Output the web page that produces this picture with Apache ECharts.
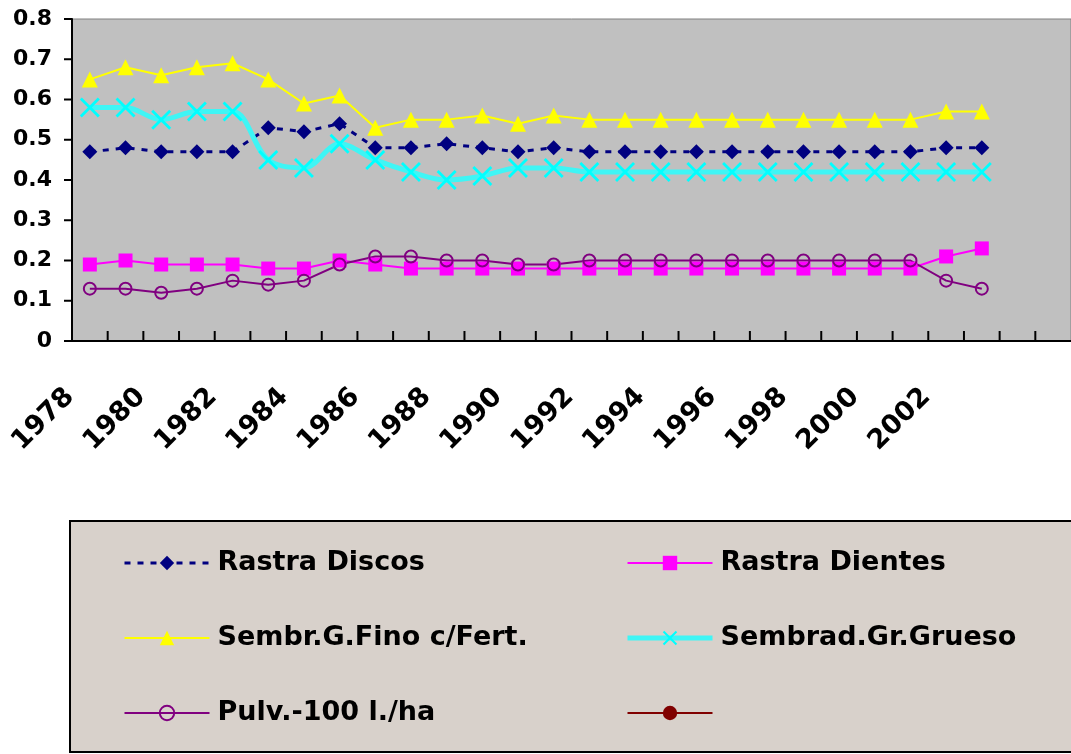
<!DOCTYPE html>
<html>
<head>
<meta charset="utf-8">
<script src="https://cdn.jsdelivr.net/npm/echarts@6/dist/echarts.min.js"></script>
<style>
    html, body { margin: 0; padding: 0; background: #fff; }
    #chart { width: 1071px; height: 754px; }
</style>
</head>
<body>
<div id="chart"></div>
<script>
// años (las dos ultimas categorias quedan vacias)
const years = ['1978', '1979', '1980', '1981', '1982', '1983', '1984', '1985', '1986', '1987',
    '1988', '1989', '1990', '1991', '1992', '1993', '1994', '1995', '1996', '1997',
    '1998', '1999', '2000', '2001', '2002', '2003', '', ' ']
const yTicks = [0, 0.1, 0.2, 0.3, 0.4, 0.5, 0.6, 0.7, 0.8]

const rastraDiscos = [0.47, 0.48, 0.47, 0.47, 0.47, 0.53, 0.52, 0.54, 0.48, 0.48, 0.49, 0.48, 0.47,
    0.48, 0.47, 0.47, 0.47, 0.47, 0.47, 0.47, 0.47, 0.47, 0.47, 0.47, 0.48, 0.48]
const rastraDientes = [0.19, 0.20, 0.19, 0.19, 0.19, 0.18, 0.18, 0.20, 0.19, 0.18, 0.18, 0.18, 0.18,
    0.18, 0.18, 0.18, 0.18, 0.18, 0.18, 0.18, 0.18, 0.18, 0.18, 0.18, 0.21, 0.23]
const sembrFino = [0.65, 0.68, 0.66, 0.68, 0.69, 0.65, 0.59, 0.61, 0.53, 0.55, 0.55, 0.56, 0.54,
    0.56, 0.55, 0.55, 0.55, 0.55, 0.55, 0.55, 0.55, 0.55, 0.55, 0.55, 0.57, 0.57]
const sembradGrueso = [0.58, 0.58, 0.55, 0.57, 0.57, 0.45, 0.43, 0.49, 0.45, 0.42, 0.40, 0.41, 0.43,
    0.43, 0.42, 0.42, 0.42, 0.42, 0.42, 0.42, 0.42, 0.42, 0.42, 0.42, 0.42, 0.42]
const pulv100 = [0.13, 0.13, 0.12, 0.13, 0.15, 0.14, 0.15, 0.19, 0.21, 0.21, 0.20, 0.20, 0.19,
    0.19, 0.20, 0.20, 0.20, 0.20, 0.20, 0.20, 0.20, 0.20, 0.20, 0.20, 0.15, 0.13]
const sinNombre = []

const font = 'DejaVu Sans'
const xMark = 'path://M0,1L1,0L5,4L9,0L10,1L6,5L10,9L9,10L5,6L1,10L0,9L4,5Z'

const legendText = {
    fontSize: 27,
    fontWeight: 'bold',
    fontFamily: font,
    color: '#000',
    lineHeight: 30,
    padding: [0, 0, 0, 3]
}
const legendLine = { width: 'inherit', type: 'inherit' }

// marcas del eje X entre categorias, con la escala del eje
function renderTickX(params, api) {
    let p = api.coord([api.value(0), 0])
    let x = p[0] - api.size([1, 0])[0] / 2
    return {
        type: 'line',
        shape: { x1: x, y1: p[1], x2: x, y2: p[1] - 10 },
        style: { stroke: '#000', lineWidth: 2 }
    }
}
// marcas del eje Y hacia afuera
function renderTickY(params, api) {
    let p = api.coord([0, api.value(1)])
    let x = p[0] - api.size([1, 0])[0] / 2
    return {
        type: 'line',
        shape: { x1: x - 8, y1: p[1], x2: x, y2: p[1] },
        style: { stroke: '#000', lineWidth: 2 }
    }
}

let chart = echarts.init(document.getElementById('chart'))
chart.setOption({
    animation: false,
    grid: {
        left: 72,
        top: 19,
        width: 1002,
        height: 322,
        show: true,
        backgroundColor: '#C0C0C0',
        borderColor: '#808080',
        borderWidth: 1
    },
    graphic: [{
        type: 'rect',
        z: -10,
        shape: { x: 70, y: 521, width: 1012, height: 231 },
        style: { fill: '#D8D1CB', stroke: '#000', lineWidth: 2 }
    }],
    legend: [{
        data: ['Rastra Discos', 'Sembr.G.Fino c/Fert.', 'Pulv.-100 l./ha'],
        orient: 'vertical',
        left: 118,
        top: 543,
        itemWidth: 85,
        itemHeight: 18,
        itemGap: 45,
        selectedMode: false,
        lineStyle: legendLine,
        textStyle: legendText
    }, {
        data: ['Rastra Dientes', 'Sembrad.Gr.Grueso', ' '],
        orient: 'vertical',
        left: 620,
        top: 543,
        itemWidth: 85,
        itemHeight: 18,
        itemGap: 45,
        selectedMode: false,
        lineStyle: legendLine,
        textStyle: legendText
    }],
    xAxis: {
        type: 'category',
        data: years,
        z: 10,
        axisLine: { lineStyle: { color: '#000', width: 2 } },
        axisTick: { show: false },
        axisLabel: {
            interval: 1,
            rotate: 45,
            margin: 32,
            padding: [0, 28, 0, 0],
            fontSize: 27,
            fontWeight: 'bold',
            fontFamily: font,
            color: '#000'
        },
        splitLine: { show: false }
    },
    yAxis: {
        type: 'value',
        min: 0,
        max: 0.8,
        interval: 0.1,
        z: 10,
        axisLine: { show: true, lineStyle: { color: '#000', width: 2 } },
        axisTick: { show: false },
        axisLabel: {
            margin: 20,
            fontSize: 22,
            fontWeight: 'bold',
            fontFamily: font,
            color: '#000'
        },
        splitLine: { show: false }
    },
    series: [{
        name: 'Rastra Discos',
        type: 'line',
        data: rastraDiscos,
        symbol: 'diamond',
        symbolSize: 15,
        itemStyle: { color: '#000080' },
        lineStyle: { color: '#000080', width: 3, type: [6, 7] }
    }, {
        name: 'Rastra Dientes',
        type: 'line',
        data: rastraDientes,
        symbol: 'rect',
        symbolSize: 14,
        itemStyle: { color: '#FF00FF' },
        lineStyle: { color: '#FF00FF', width: 2 }
    }, {
        name: 'Sembr.G.Fino c/Fert.',
        type: 'line',
        data: sembrFino,
        symbol: 'triangle',
        symbolSize: 16,
        itemStyle: { color: '#FFFF00' },
        lineStyle: { color: '#FFFF00', width: 2 }
    }, {
        name: 'Sembrad.Gr.Grueso',
        type: 'line',
        data: sembradGrueso,
        smooth: 0.35,
        symbol: xMark,
        symbolSize: 20,
        itemStyle: { color: '#00FFFF' },
        lineStyle: { color: '#3FF5F5', width: 5 }
    }, {
        name: 'Pulv.-100 l./ha',
        type: 'line',
        data: pulv100,
        symbol: 'circle',
        symbolSize: 12,
        itemStyle: { color: 'rgba(0,0,0,0)', borderColor: '#800080', borderWidth: 2 },
        lineStyle: { color: '#800080', width: 2 }
    }, {
        name: ' ',
        type: 'line',
        data: sinNombre,
        symbol: 'circle',
        symbolSize: 13,
        itemStyle: { color: '#800000' },
        lineStyle: { color: '#800000', width: 2 }
    }, {
        name: 'marcasX',
        type: 'custom',
        silent: true,
        clip: false,
        zlevel: 2,
        renderItem: renderTickX,
        data: years.map((y, i) => [i, 0])
    }, {
        name: 'marcasY',
        type: 'custom',
        silent: true,
        clip: false,
        zlevel: 2,
        renderItem: renderTickY,
        data: yTicks.map(v => [0, v])
    }]
})
</script>
</body>
</html>
